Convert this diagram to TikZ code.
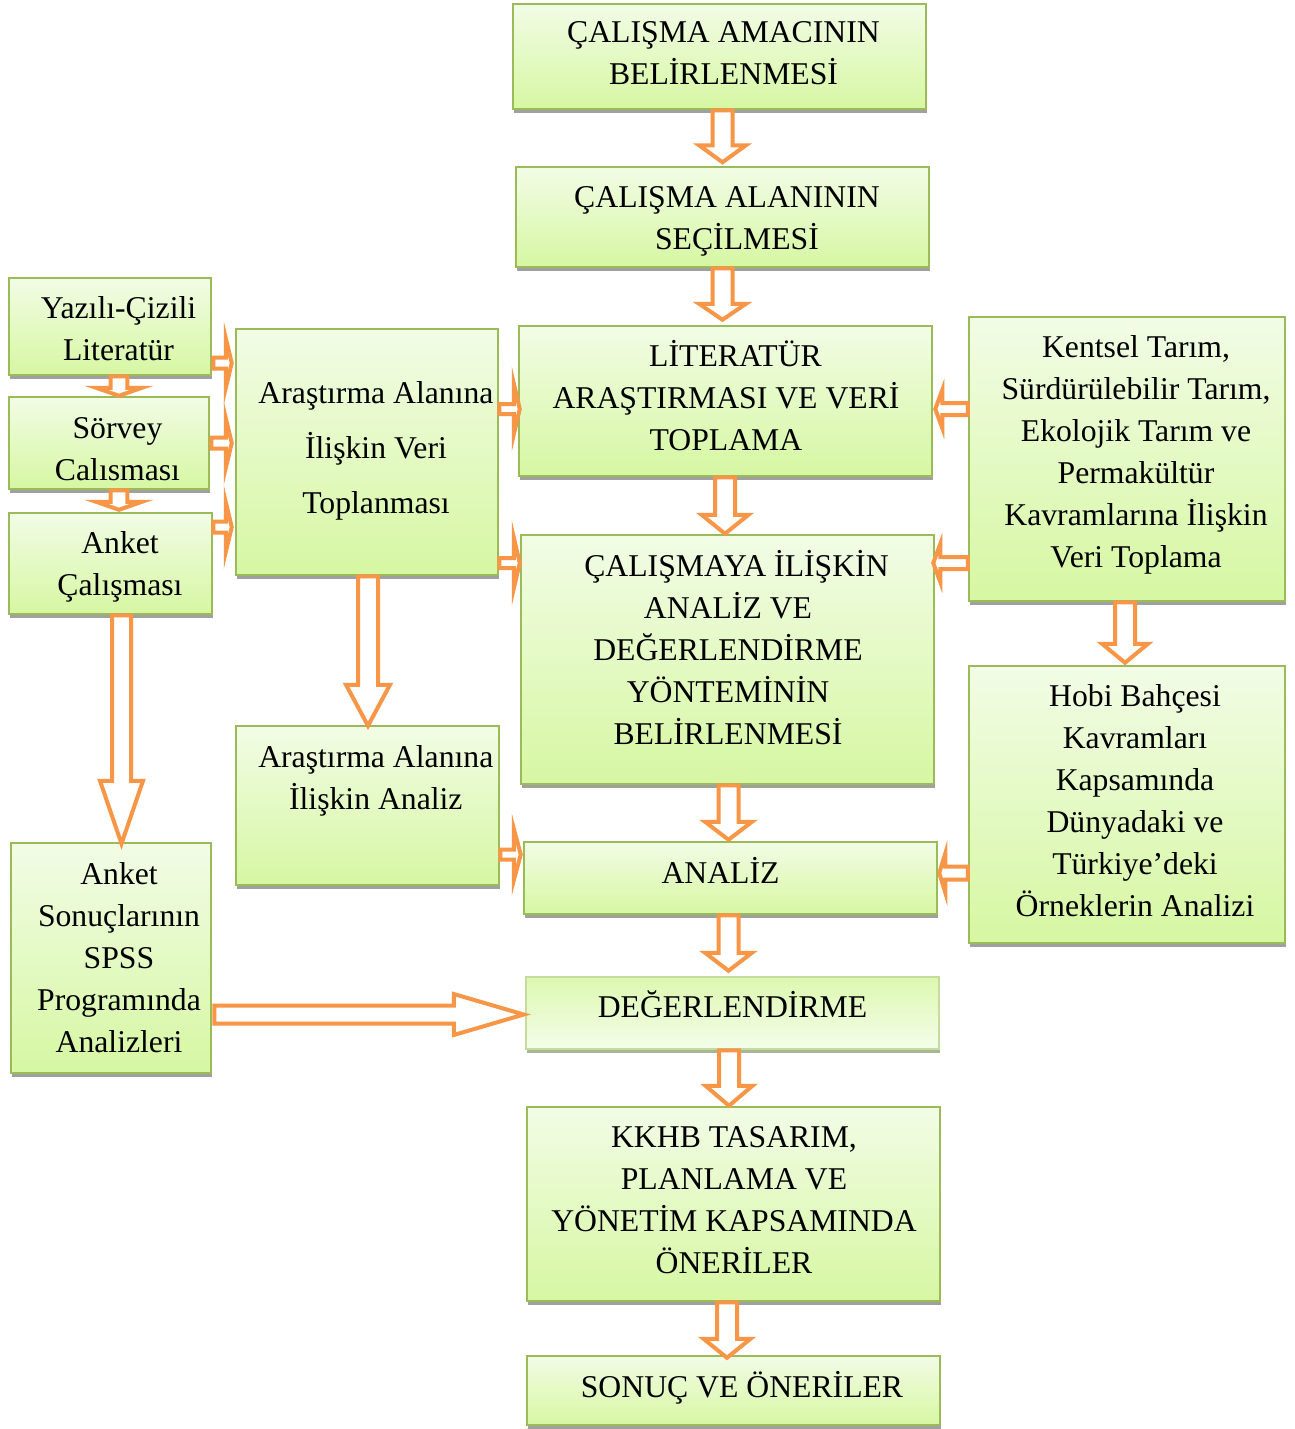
\documentclass[tikz,border=0pt]{standalone}
\usepackage{fontspec}
\setmainfont{Liberation Serif}
\usetikzlibrary{calc,shadows}
\definecolor{bord}{RGB}{155,187,89}
\definecolor{gtop}{RGB}{242,252,230}
\definecolor{gbot}{RGB}{214,247,162}
\definecolor{rbord}{RGB}{198,220,158}
\definecolor{rtop}{RGB}{221,248,176}
\definecolor{rbot}{RGB}{244,253,234}
\definecolor{org}{RGB}{247,150,70}
\definecolor{shad}{RGB}{160,160,160}
\definecolor{rshad}{RGB}{170,180,150}
% text block with horizontal shift #1 and downward shift #2 (px)
\newcommand{\boxtxt}[3]{\hspace*{#1pt}\raisebox{-#2pt}[\height][\depth]{\begin{tabular}{@{}c@{}}#3\end{tabular}}\hspace*{-#1pt}}
% block arrow: start, end, shaft half width, head half width, head length
\newcommand{\blockarrow}[5]{%
  \path (#1) coordinate (ba-s) (#2) coordinate (ba-e);
  \path ($(ba-e)!#5!(ba-s)$) coordinate (ba-h);
  \draw[barw] ($(ba-s)!#3!90:(ba-e)$) -- ($(ba-h)!#3!90:(ba-e)$) -- ($(ba-h)!#4!90:(ba-e)$) -- (ba-e)
    -- ($(ba-h)!#4!-90:(ba-e)$) -- ($(ba-h)!#3!-90:(ba-e)$) -- ($(ba-s)!#3!-90:(ba-e)$) -- cycle;
}
\tikzset{
  gbox/.style={draw=bord, line width=2.5pt, top color=gtop, bottom color=gbot,
    drop shadow={shadow xshift=1pt, shadow yshift=-4pt, fill=shad, opacity=1},
    inner sep=0pt, font=\fontsize{31.7pt}{42pt}\selectfont},
  rbox/.style={gbox, draw=rbord, top color=rtop, bottom color=rbot,
    drop shadow={shadow xshift=1pt, shadow yshift=-4pt, fill=rshad, opacity=1}},
  barw/.style={draw=org, fill=white, line width=4pt, line join=miter}
}
\begin{document}
\begin{tikzpicture}[x=1pt,y=-1pt]
\path[use as bounding box, fill=white] (0,0) rectangle (1294,1429);

% middle column
\node[gbox, minimum width=413pt, minimum height=105pt] (amac) at (719.5,56.5)
  {\boxtxt{4}{-1.5}{ÇALIŞMA AMACININ\\BELİRLENMESİ}};
\node[gbox, minimum width=413pt, minimum height=100pt] (alan) at (722.5,217)
  {\boxtxt{4.5}{3.5}{ÇALIŞMA ALANININ\\\hspace*{20pt}SEÇİLMESİ}};
\node[gbox, minimum width=413pt, minimum height=150pt] (lit) at (725.5,401)
  {\boxtxt{0.5}{-1.3}{\hspace*{19pt}LİTERATÜR\\ARAŞTIRMASI VE VERİ\\TOPLAMA}};
\node[gbox, minimum width=413pt, minimum height=249pt] (cal) at (727.5,659.5)
  {\boxtxt{0.5}{-7.5}{\hspace*{17pt}ÇALIŞMAYA İLİŞKİN\\ANALİZ VE\\DEĞERLENDİRME\\YÖNTEMİNİN\\BELİRLENMESİ}};
\node[gbox, minimum width=413pt, minimum height=72pt] (analiz) at (730.5,878)
  {\boxtxt{-10}{-3}{ANALİZ}};
\node[rbox, minimum width=413pt, minimum height=72pt] (deg) at (732.5,1013)
  {\boxtxt{0}{-4}{DEĞERLENDİRME}};
\node[gbox, minimum width=413pt, minimum height=194pt] (kkhb) at (733.5,1204)
  {\boxtxt{0.5}{-1.5}{KKHB TASARIM,\\PLANLAMA VE\\YÖNETİM KAPSAMINDA\\ÖNERİLER}};
\node[gbox, minimum width=413pt, minimum height=69pt] (sonuc) at (733.5,1390.5)
  {\boxtxt{8.5}{-1.5}{SONUÇ VE ÖNERİLER}};

% left column
\node[gbox, minimum width=202pt, minimum height=97pt] (yaz) at (110,326.5)
  {\boxtxt{8.5}{4.5}{Yazılı-Çizili\\Literatür}};
\node[gbox, minimum width=200pt, minimum height=92pt] (sorv) at (109,443)
  {\boxtxt{8.5}{8}{Sörvey\\Calısması}};
\node[gbox, minimum width=203pt, minimum height=101pt] (anket) at (110.5,563.5)
  {\boxtxt{9.5}{2.5}{Anket\\Çalışması}};
\node[gbox, minimum width=200pt, minimum height=230pt] (asonuc) at (111,958)
  {\boxtxt{8}{2}{Anket\\Sonuçlarının\\SPSS\\Programında\\Analizleri}};

% second column
\node[gbox, minimum width=262pt, minimum height=246pt] (arveri) at (367,452)
  {\def\arraystretch{1.31}\boxtxt{9}{-4.5}{Araştırma Alanına\\İlişkin Veri\\Toplanması}};
\node[gbox, minimum width=263pt, minimum height=159pt] (aranaliz) at (367.5,805.5)
  {\boxtxt{8.3}{-25.5}{Araştırma Alanına\\İlişkin Analiz}};

% right column
\node[gbox, minimum width=316pt, minimum height=284pt] (kent) at (1127,459)
  {\boxtxt{9}{-4.5}{Kentsel Tarım,\\Sürdürülebilir Tarım,\\Ekolojik Tarım ve\\Permakültür\\Kavramlarına İlişkin\\Veri Toplama}};
\node[gbox, minimum width=316pt, minimum height=277pt] (hobi) at (1127,804.5)
  {\boxtxt{8}{-1}{Hobi Bahçesi\\Kavramları\\Kapsamında\\Dünyadaki ve\\Türkiye’deki\\Örneklerin Analizi}};

% main vertical arrows
\blockarrow{alan.north |- amac.south}{$(alan.north)+(0,-3.5)$}{10pt}{23.5pt}{17pt}
\blockarrow{alan.south}{$(alan.south |- lit.north)+(0,-5)$}{10pt}{23.5pt}{16pt}
\blockarrow{$(lit.south)+(-0.5,0)$}{$(lit.south |- cal.north)+(-0.5,0)$}{10pt}{23.5pt}{19pt}
\blockarrow{$(cal.south)+(1,0)$}{$(cal.south |- analiz.north)+(1,-1)$}{10pt}{23.5pt}{18pt}
\blockarrow{$(analiz.south)+(-2,0)$}{$(analiz.south |- deg.north)+(-2,-5)$}{10pt}{23.5pt}{18pt}
\blockarrow{$(deg.south)+(-3.5,0)$}{$(deg.south |- kkhb.north)+(-3.5,0)$}{10pt}{23.5pt}{20pt}
\blockarrow{$(kkhb.south)+(-6.5,0)$}{$(kkhb.south |- sonuc.north)+(-6.5,3)$}{10pt}{23.5pt}{19pt}

% right side arrows
\blockarrow{$(kent.south)+(-2,0)$}{$(kent.south |- hobi.north)+(-2,-2)$}{10pt}{23pt}{19pt}
\blockarrow{$(kent.west)+(0,-50)$}{$(kent.west -| lit.east)+(2,-50)$}{6pt}{19pt}{7pt}
\blockarrow{$(kent.west)+(0,104)$}{$(kent.west -| cal.east)+(-2,104)$}{6pt}{19pt}{7pt}
\blockarrow{$(hobi.west)+(0,68.5)$}{$(hobi.west -| analiz.east)+(1,68.5)$}{6.5pt}{19.5pt}{6pt}

% left side arrows
\blockarrow{$(yaz.south)+(9,0)$}{$(yaz.south |- sorv.north)+(9,0)$}{8.3pt}{23pt}{8pt}
\blockarrow{$(sorv.south)+(10,0)$}{$(sorv.south |- anket.north)+(10,-2)$}{8.3pt}{23pt}{8pt}
\blockarrow{$(anket.south)+(11,0)$}{$(anket.south |- asonuc.north)+(11,2)$}{9.5pt}{21.5pt}{63pt}
\blockarrow{$(asonuc.east)+(2,56.5)$}{$(deg.west)+(-1,1.5)$}{9pt}{20.5pt}{70pt}

\blockarrow{$(yaz.east)+(1,36.5)$}{$(yaz.east -| arveri.west)+(-3,36.5)$}{5.5pt}{25pt}{6pt}
\blockarrow{$(sorv.east)+(1,0)$}{$(sorv.east -| arveri.west)+(-3,0)$}{5.5pt}{25pt}{6pt}
\blockarrow{$(anket.east)+(0,-36.5)$}{$(anket.east -| arveri.west)+(-3,-36.5)$}{5.5pt}{25pt}{6pt}

% second column arrows
\blockarrow{$(arveri.south)+(1,0)$}{$(arveri.south |- aranaliz.north)+(1,1)$}{10pt}{22pt}{41pt}
\blockarrow{$(arveri.east)+(0,-43)$}{$(arveri.east -| lit.west)+(2,-43)$}{5pt}{25.5pt}{6pt}
\blockarrow{$(arveri.east)+(0,111)$}{$(arveri.east -| cal.west)+(0,111)$}{5pt}{25.5pt}{6pt}
\blockarrow{$(aranaliz.east)+(0,49)$}{$(aranaliz.east -| analiz.west)+(-2,49)$}{5pt}{26pt}{7pt}
\end{tikzpicture}
\end{document}
